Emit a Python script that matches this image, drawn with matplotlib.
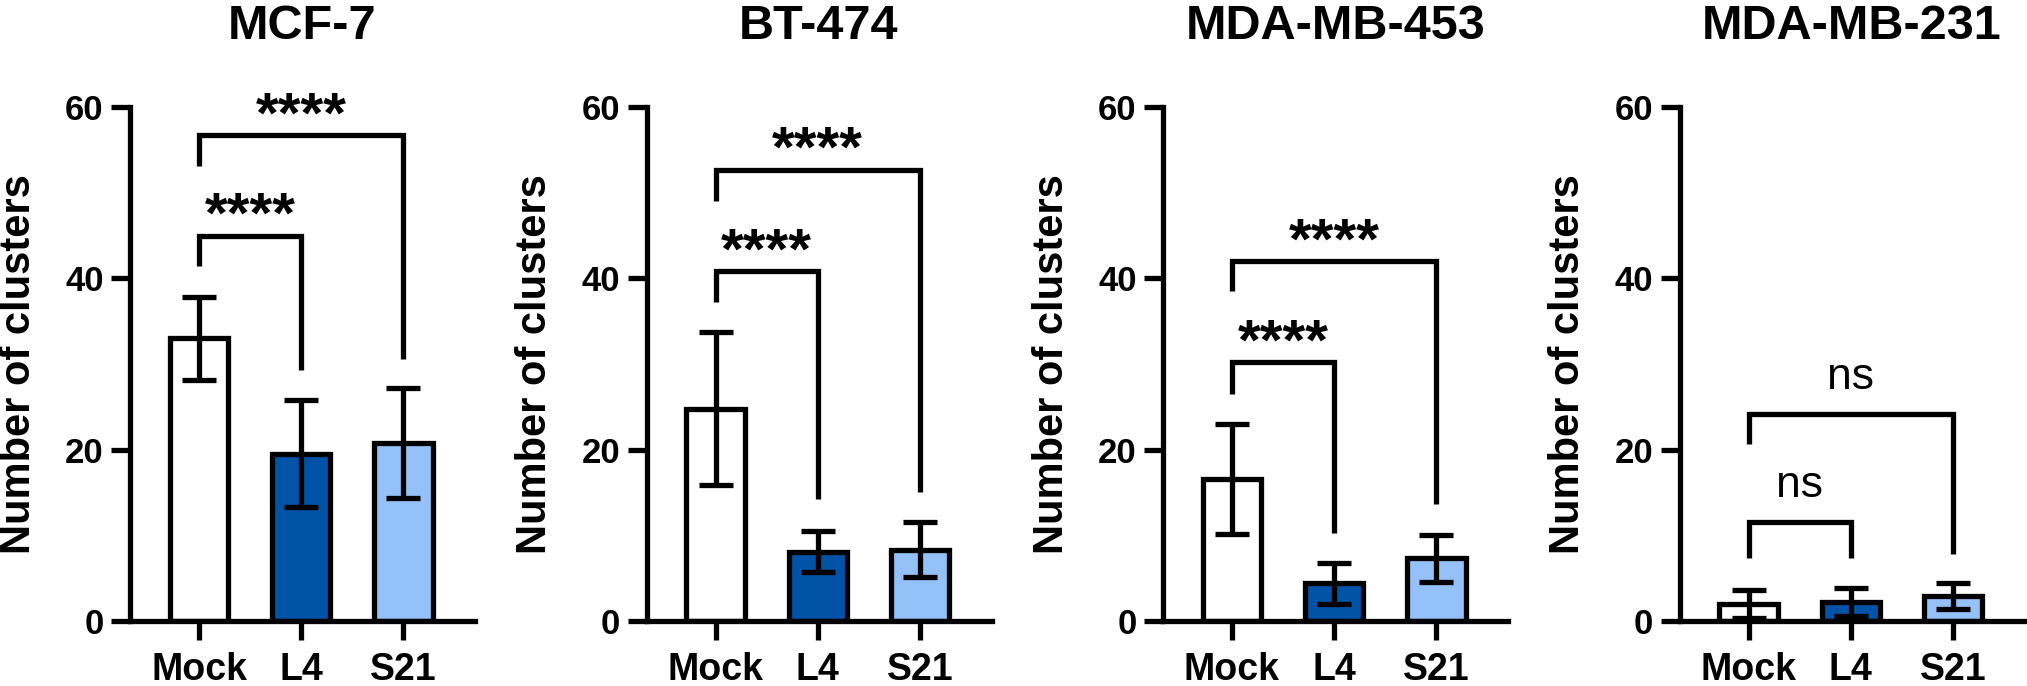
import matplotlib
matplotlib.use("Agg")
import matplotlib.pyplot as plt

plt.rcParams['font.family'] = ['Liberation Sans', 'DejaVu Sans']

# ---------------- data ----------------
cell_lines = ["MCF-7", "BT-474", "MDA-MB-453", "MDA-MB-231"]
groups = ["Mock", "L4", "S21"]

mcf7_mean = [33.0, 19.55, 20.75]
mcf7_sd = [4.85, 6.25, 6.45]
bt474_mean = [24.8, 8.1, 8.3]
bt474_sd = [8.9, 2.4, 3.2]
mda453_mean = [16.55, 4.4, 7.3]
mda453_sd = [6.45, 2.4, 2.7]
mda231_mean = [2.0, 2.2, 2.9]
mda231_sd = [1.6, 1.6, 1.5]

# brackets: (group a, group b, bar height, left leg end, right leg end, label)
mcf7_brackets = [(0, 1, 45.0, 41.4, 29.3, "****"), (0, 2, 56.7, 53.1, 30.6, "****")]
bt474_brackets = [(0, 1, 40.8, 37.2, 14.2, "****"), (0, 2, 52.7, 49.0, 15.1, "****")]
mda453_brackets = [(0, 1, 30.2, 26.5, 10.3, "****"), (0, 2, 42.0, 38.5, 13.6, "****")]
mda231_brackets = [(0, 1, 11.5, 7.3, 7.4, "ns"), (0, 2, 24.2, 20.7, 7.8, "ns")]

y_ticks = [0, 20, 40, 60]
y_label = "Number of clusters"

means = [mcf7_mean, bt474_mean, mda453_mean, mda231_mean]
sds = [mcf7_sd, bt474_sd, mda453_sd, mda231_sd]
brackets = [mcf7_brackets, bt474_brackets, mda453_brackets, mda231_brackets]

# ---------------- style ----------------
colors = ["#FFFFFF", "#0053A6", "#94C1F7"]
LW = 3.8
W, H = 2027, 686
fig = plt.figure(figsize=(W / 100, H / 100), dpi=100)

left0, spacing, aw = 130, 516.5, 345
bottom_px, top_px = 621, 107

for i, name in enumerate(cell_lines):
    ax = fig.add_axes([(left0 + i * spacing) / W, (H - bottom_px) / H,
                       aw / W, (bottom_px - top_px) / H])
    x = list(range(len(groups)))
    ax.bar(x, means[i], width=0.57, color=colors, edgecolor="black",
           linewidth=LW, zorder=2)
    ax.errorbar(x, means[i], yerr=sds[i], fmt="none", ecolor="black",
                elinewidth=LW, capsize=12, capthick=LW, zorder=3)
    for (a, b, top, la, lb, lab) in brackets[i]:
        ax.plot([a, a, b, b], [la, top, top, lb], color="black", lw=LW,
                solid_joinstyle="miter", solid_capstyle="butt",
                clip_on=False, zorder=4)
        if lab == "ns":
            ax.annotate(lab, xy=((a + b) / 2, top), xytext=(0, 18),
                        textcoords="offset points", ha="center",
                        va="baseline", fontsize=32, fontweight="normal")
        else:
            ax.annotate(lab, xy=((a + b) / 2, top), xytext=(0, 2),
                        textcoords="offset points", ha="center",
                        va="baseline", fontsize=42, fontweight="bold")
    ax.set_xlim(-0.675, 2.70)
    ax.set_ylim(0, 60)
    ax.set_yticks(y_ticks)
    ax.set_xticks(x)
    ax.set_xticklabels(groups, fontsize=27, fontweight="bold")
    ax.set_yticklabels([str(t) for t in y_ticks], fontsize=25, fontweight="bold")
    for s in ["top", "right"]:
        ax.spines[s].set_visible(False)
    for s in ["left", "bottom"]:
        ax.spines[s].set_linewidth(LW)
    ax.tick_params(axis="both", direction="out", length=14, width=LW)
    ax.tick_params(axis="x", pad=8)
    ax.tick_params(axis="y", pad=5)
    ax.set_ylabel(y_label, fontsize=30, fontweight="bold", labelpad=19)
    ax.set_title(name, fontsize=35, fontweight="bold", pad=49)

fig.savefig("out.png", dpi=100)
